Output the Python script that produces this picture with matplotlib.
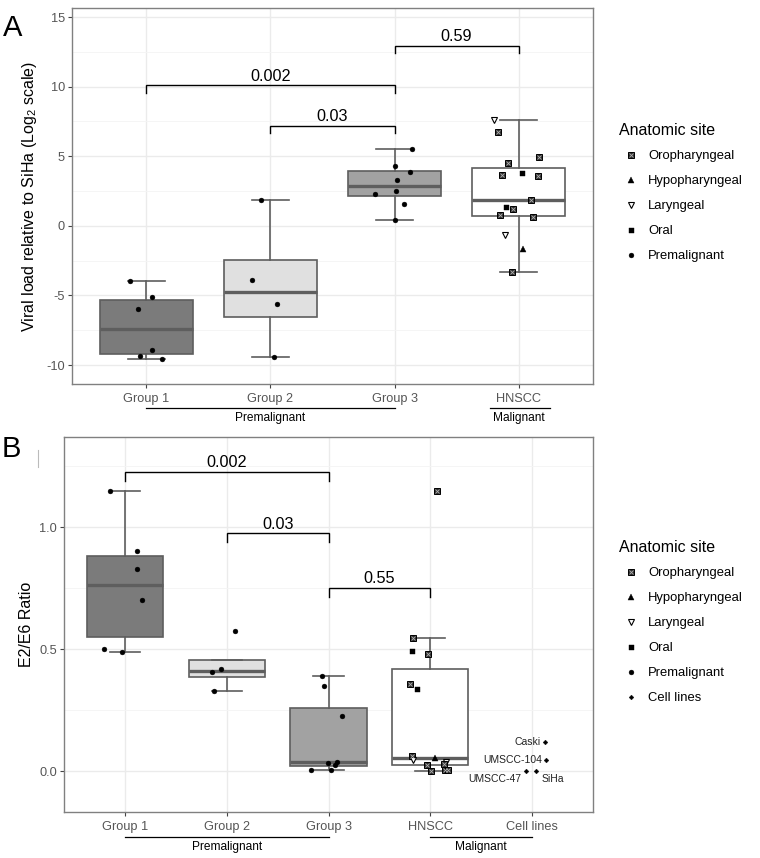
import matplotlib
matplotlib.use('Agg')
import matplotlib.pyplot as plt
from matplotlib.lines import Line2D

plt.rcParams['font.family'] = ['Liberation Sans', 'DejaVu Sans']
plt.rcParams['mathtext.fontset'] = 'custom'
plt.rcParams['mathtext.rm'] = 'Liberation Sans'

# ---------------- Panel A: viral load relative to SiHa (log2) ----------------
a_groups = ['Group 1', 'Group 2', 'Group 3', 'HNSCC']

a_group1 = [-3.97, -5.10, -5.96, -8.90, -9.33, -9.60]
a_group1_dx = [-0.135, 0.042, -0.071, 0.042, -0.05, 0.123]
a_group2 = [1.87, -3.90, -5.60, -9.40]
a_group2_dx = [-0.078, -0.148, 0.054, 0.032]
a_group3 = [5.53, 4.28, 3.85, 3.28, 2.51, 2.32, 1.60, 0.41]
a_group3_dx = [0.143, 0.0, 0.127, 0.019, 0.008, -0.161, 0.078, 0.0]
a_hnscc = [7.63, 6.77, 4.93, 4.55, 3.64, 3.80, 3.59, 1.87, 1.39, 1.20, 0.79, 0.62,
           -0.69, -1.65, -3.30]
a_hnscc_dx = [-0.197, -0.165, 0.161, -0.089, -0.132, 0.024, 0.158, 0.102, -0.105,
              -0.048, -0.148, 0.115, -0.108, 0.037, -0.052]
a_hnscc_site = ['Laryngeal', 'Oropharyngeal', 'Oropharyngeal', 'Oropharyngeal',
                'Oropharyngeal', 'Oral', 'Oropharyngeal', 'Oropharyngeal', 'Oral',
                'Oropharyngeal', 'Oropharyngeal', 'Oropharyngeal', 'Laryngeal',
                'Hypopharyngeal', 'Oropharyngeal']

a_pairs = [(1, 3), (2, 3), (3, 4)]
a_pvals = ['0.002', '0.03', '0.59']
a_bar_y = [10.1, 7.2, 12.94]

# ---------------- Panel B: E2/E6 ratio ----------------
b_groups = ['Group 1', 'Group 2', 'Group 3', 'HNSCC', 'Cell lines']

b_group1 = [1.148, 0.900, 0.828, 0.699, 0.500, 0.486]
b_group1_dx = [-0.144, 0.121, 0.121, 0.163, -0.203, -0.033]
b_group2 = [0.572, 0.418, 0.404, 0.326]
b_group2_dx = [0.084, -0.053, -0.144, -0.124]
b_group3 = [0.391, 0.350, 0.227, 0.037, 0.034, 0.023, 0.005, 0.004]
b_group3_dx = [-0.062, -0.045, 0.134, 0.085, -0.003, 0.059, -0.170, 0.020]
b_hnscc = [1.146, 0.546, 0.490, 0.479, 0.358, 0.336, 0.063, 0.046, 0.052, 0.037,
           0.027, 0.026, 0.002, 0.004, 0.004]
b_hnscc_dx = [0.066, -0.170, -0.183, -0.020, -0.196, -0.134, -0.179, -0.174, 0.049,
              0.157, 0.137, -0.029, 0.007, 0.144, 0.176]
b_hnscc_site = ['Oropharyngeal', 'Oropharyngeal', 'Oral', 'Oropharyngeal',
                'Oropharyngeal', 'Oral', 'Oropharyngeal', 'Laryngeal',
                'Hypopharyngeal', 'Laryngeal', 'Oropharyngeal', 'Oropharyngeal',
                'Oropharyngeal', 'Oropharyngeal', 'Oropharyngeal']
cell_names = ['Caski', 'UMSCC-104', 'UMSCC-47', 'SiHa']
cell_vals = [0.120, 0.044, 0.0, 0.0]
cell_dx = [0.13, 0.137, -0.059, 0.039]

b_pairs = [(1, 3), (2, 3), (3, 4)]
b_pvals = ['0.002', '0.03', '0.55']
b_bar_y = [1.225, 0.974, 0.750]

# ---------------- styles ----------------
box_fills = ['#7b7b7b', '#e0e0e0', '#a2a2a2', '#ffffff']
edge = '#5e5e5e'
grid_major = '#ebebeb'
grid_minor = '#f4f4f4'
tick_col = '#555555'

markers = {
    'Oropharyngeal': dict(marker='s', ms=3.8),
    'Hypopharyngeal': dict(marker='^', ms=4.0),
    'Laryngeal': dict(marker='v', ms=4.2),
    'Oral': dict(marker='s', ms=3.6),
    'Premalignant': dict(marker='o', ms=3.5),
    'Cell lines': dict(marker='D', ms=2.4),
}


def draw_point(ax, x, y, site):
    st = markers[site]
    if site == 'Oropharyngeal':
        ax.plot(x, y, ls='none', marker='s', ms=st['ms'], mfc='#2e2e2e', mec='black',
                mew=0.7, zorder=4)
        ax.plot(x, y, ls='none', marker='x', ms=st['ms'] * 0.7, mec='#b0b0b0',
                mew=0.6, zorder=5)
    elif site == 'Laryngeal':
        ax.plot(x, y, ls='none', marker='v', ms=st['ms'], mfc='white', mec='black',
                mew=0.8, zorder=4)
    else:
        ax.plot(x, y, ls='none', marker=st['marker'], ms=st['ms'], mfc='black',
                mec='black', mew=0.3, zorder=4)


def legend_handles(sites):
    hs = []
    for s in sites:
        st = markers[s]
        if s == 'Oropharyngeal':
            h = (Line2D([], [], ls='none', marker='s', ms=st['ms'], mfc='#2e2e2e',
                        mec='black', mew=0.7),
                 Line2D([], [], ls='none', marker='x', ms=st['ms'] * 0.7,
                        mec='#b0b0b0', mew=0.6))
        elif s == 'Laryngeal':
            h = Line2D([], [], ls='none', marker='v', ms=st['ms'], mfc='white',
                       mec='black', mew=0.8)
        else:
            h = Line2D([], [], ls='none', marker=st['marker'], ms=st['ms'],
                       mfc='black', mec='black', mew=0.3)
        hs.append(h)
    return hs


def style_axes(ax):
    for sp in ax.spines.values():
        sp.set_color('#808080')
        sp.set_linewidth(1.0)
    ax.tick_params(axis='both', which='major', length=3, width=0.8, color='#444444',
                   labelcolor=tick_col, labelsize=9.2, pad=2)
    ax.tick_params(axis='both', which='minor', length=0)
    ax.grid(True, which='major', color=grid_major, lw=1.0, zorder=0)
    ax.grid(True, which='minor', axis='y', color=grid_minor, lw=0.6, zorder=0)
    ax.set_axisbelow(True)


def boxes(ax, data, fills):
    pos = list(range(1, len(data) + 1))
    bp = ax.boxplot(data, positions=pos, widths=0.75, patch_artist=True,
                    showfliers=False, whis=1.5, capwidths=0.3, manage_ticks=False,
                    boxprops=dict(edgecolor=edge, linewidth=1.2),
                    medianprops=dict(color=edge, linewidth=2.4),
                    whiskerprops=dict(color=edge, linewidth=1.2),
                    capprops=dict(color=edge, linewidth=1.2), zorder=2)
    for patch, fc in zip(bp['boxes'], fills):
        patch.set_facecolor(fc)


def brackets(ax, pairs, ys, labels, drop):
    for (x1, x2), y, lab in zip(pairs, ys, labels):
        ax.plot([x1, x1, x2, x2], [y - drop, y, y, y - drop], color='black', lw=1.0,
                zorder=5, solid_joinstyle='miter')
        ax.annotate(lab, xy=((x1 + x2) / 2, y), xytext=(0, 6.6),
                    textcoords='offset points', ha='center', va='center',
                    fontsize=11.7, color='black')


def group_lines(ax, spans, labels, label_x, y_line, y_text):
    tr = ax.get_xaxis_transform()
    for (x1, x2), lab, lx in zip(spans, labels, label_x):
        ax.plot([x1, x2], [y_line, y_line], color='black', lw=0.9, transform=tr,
                clip_on=False)
        ax.text(lx, y_text, lab, transform=tr, ha='center', va='center',
                fontsize=8.6, color='black')


def site_legend(ax, sites, top_px):
    return ax.legend(legend_handles(sites), sites, title='Anatomic site',
                     loc='upper left', bbox_to_anchor=(612 / 760, 1 - top_px / 858),
                     bbox_transform=fig.transFigure, frameon=False, borderpad=0,
                     fontsize=9.4, title_fontsize=11.5, handlelength=1.85,
                     handletextpad=0.4, labelspacing=0.98, alignment='left')


fig = plt.figure(figsize=(7.6, 8.58), dpi=100)

# ---------------- Panel A ----------------
axA = fig.add_axes([72 / 760, 1 - 384 / 858, 521 / 760, 376 / 858])
a_data = [a_group1, a_group2, a_group3, a_hnscc]
boxes(axA, a_data, box_fills)
for i, (vals, dxs) in enumerate(zip([a_group1, a_group2, a_group3],
                                    [a_group1_dx, a_group2_dx, a_group3_dx])):
    for v, d in zip(vals, dxs):
        draw_point(axA, i + 1 + d, v, 'Premalignant')
for v, d, s in zip(a_hnscc, a_hnscc_dx, a_hnscc_site):
    draw_point(axA, 4 + d, v, s)
brackets(axA, a_pairs, a_bar_y, a_pvals, 0.55)

axA.set_xlim(0.4, 4.6)
axA.set_ylim(-11.36, 15.65)
axA.set_xticks(range(1, 5))
axA.set_xticklabels(a_groups)
axA.set_yticks([-10, -5, 0, 5, 10, 15])
axA.set_yticklabels(['-10', '-5', '0', '5', '10', '15'])
axA.set_yticks([-7.5, -2.5, 2.5, 7.5, 12.5], minor=True)
style_axes(axA)
axA.tick_params(axis='x', pad=3.5)
axA.set_ylabel(r'Viral load relative to SiHa (Log$_{\mathregular{2}}$ scale)',
               fontsize=11.5)
axA.yaxis.set_label_coords(-0.064, 0.5)
group_lines(axA, [(1, 3), (3.77, 4.25)], ['Premalignant', 'Malignant'], [2, 4.0],
            -0.063, -0.0905)
site_legend(axA, ['Oropharyngeal', 'Hypopharyngeal', 'Laryngeal', 'Oral',
                  'Premalignant'], 116)

# ---------------- Panel B ----------------
axB = fig.add_axes([64 / 760, 1 - 812 / 858, 529 / 760, 375 / 858])
b_data = [b_group1, b_group2, b_group3, b_hnscc]
boxes(axB, b_data, box_fills)
for i, (vals, dxs) in enumerate(zip([b_group1, b_group2, b_group3],
                                    [b_group1_dx, b_group2_dx, b_group3_dx])):
    for v, d in zip(vals, dxs):
        draw_point(axB, i + 1 + d, v, 'Premalignant')
for v, d, s in zip(b_hnscc, b_hnscc_dx, b_hnscc_site):
    draw_point(axB, 4 + d, v, s)
label_offsets = {'Caski': (-3.6, 0, 'right'), 'UMSCC-104': (-2.4, 0, 'right'),
                 'UMSCC-47': (-3.6, -5.6, 'right'), 'SiHa': (4.4, -5.6, 'left')}
for name, v, d in zip(cell_names, cell_vals, cell_dx):
    draw_point(axB, 5 + d, v, 'Cell lines')
    ox, oy, ha = label_offsets[name]
    axB.annotate(name, xy=(5 + d, v), xytext=(ox, oy), textcoords='offset points',
                 ha=ha, va='center', fontsize=7.5, color='#222222')
brackets(axB, b_pairs, b_bar_y, b_pvals, 0.037)

axB.set_xlim(0.4, 5.6)
axB.set_ylim(-0.168, 1.369)
axB.set_xticks(range(1, 6))
axB.set_xticklabels(b_groups)
axB.set_yticks([0.0, 0.5, 1.0])
axB.set_yticklabels(['0.0', '0.5', '1.0'])
axB.set_yticks([0.25, 0.75, 1.25], minor=True)
style_axes(axB)
axB.tick_params(axis='x', pad=3.5)
axB.set_ylabel('E2/E6 Ratio', fontsize=11.5)
axB.yaxis.set_label_coords(-0.057, 0.5)
group_lines(axB, [(1, 3), (4, 5)], ['Premalignant', 'Malignant'], [2, 4.5],
            -0.066, -0.0925)
site_legend(axB, ['Oropharyngeal', 'Hypopharyngeal', 'Laryngeal', 'Oral',
                  'Premalignant', 'Cell lines'], 533)

# panel letters
fig.text(3 / 760, 1 - 28 / 858, 'A', fontsize=21, va='center', ha='left')
fig.text(2 / 760, 1 - 449 / 858, 'B', fontsize=21, va='center', ha='left')
fig.add_artist(Line2D([37.5 / 760, 37.5 / 760], [1 - 450 / 858, 1 - 467 / 858],
                      color='#bbbbbb', lw=0.8))

fig.savefig('out.png', dpi=100)
